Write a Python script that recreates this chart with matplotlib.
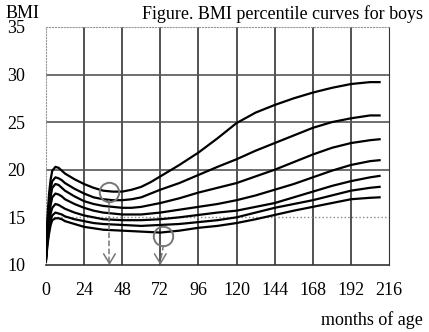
import numpy as np
import matplotlib
matplotlib.use('Agg')
import matplotlib.pyplot as plt

plt.rcParams['font.family'] = ['Liberation Serif', 'DejaVu Serif']

# months of age
months = [0, 1, 2, 3, 4, 6, 8, 10, 12, 18, 24, 30, 36, 42, 48, 54, 60, 66, 72,
          84, 96, 108, 120, 132, 144, 156, 168, 180, 192, 204, 210]

# BMI percentile curves, top to bottom
p95 = [10.8, 15.0, 17.5, 19.0, 19.9, 20.3, 20.2, 19.9, 19.6, 19.0, 18.5, 18.1, 17.8, 17.7, 17.7, 17.9, 18.2, 18.7, 19.3,
       20.5, 21.8, 23.3, 24.9, 26.0, 26.8, 27.5, 28.1, 28.6, 29.0, 29.2, 29.2]
p85 = [10.7, 14.3, 16.6, 18.0, 18.8, 19.2, 19.1, 18.9, 18.6, 18.0, 17.5, 17.1, 16.9, 16.8, 16.8, 16.9, 17.1, 17.5, 17.9,
       18.6, 19.45, 20.3, 21.1, 22.0, 22.8, 23.6, 24.4, 25.0, 25.4, 25.7, 25.7]
p75 = [10.6, 13.8, 15.9, 17.2, 18.1, 18.5, 18.4, 18.1, 17.8, 17.2, 16.7, 16.4, 16.2, 16.1, 16.0, 16.0, 16.1, 16.3, 16.5,
       17.0, 17.6, 18.1, 18.6, 19.3, 20.0, 20.8, 21.6, 22.3, 22.8, 23.1, 23.2]
p50 = [10.5, 13.3, 15.1, 16.3, 17.1, 17.5, 17.4, 17.2, 16.9, 16.4, 16.0, 15.7, 15.5, 15.4, 15.3, 15.3, 15.3, 15.4, 15.5,
       15.8, 16.1, 16.4, 16.8, 17.3, 17.9, 18.5, 19.2, 19.9, 20.5, 20.9, 21.0]
p25 = [10.5, 12.8, 14.4, 15.4, 16.0, 16.4, 16.3, 16.1, 15.9, 15.5, 15.2, 15.0, 14.8, 14.75, 14.7, 14.7, 14.7, 14.75, 14.8,
       15.0, 15.25, 15.5, 15.7, 16.1, 16.5, 17.1, 17.7, 18.3, 18.8, 19.2, 19.35]
p10 = [10.4, 12.4, 13.8, 14.7, 15.2, 15.5, 15.4, 15.3, 15.1, 14.8, 14.6, 14.4, 14.3, 14.25, 14.2, 14.15, 14.1, 14.15, 14.2,
       14.3, 14.5, 14.7, 15.0, 15.5, 16.0, 16.4, 16.8, 17.3, 17.8, 18.1, 18.2]
p5 = [10.3, 12.1, 13.3, 14.2, 14.7, 14.9, 14.9, 14.8, 14.6, 14.3, 14.0, 13.85, 13.7, 13.65, 13.6, 13.55, 13.5, 13.45, 13.4,
      13.6, 13.9, 14.1, 14.4, 14.8, 15.25, 15.7, 16.1, 16.5, 16.9, 17.05, 17.1]

# circled points and arrows
circle_x = [40, 74]
circle_y = [17.7, 13.0]
arrow_x = [40, 72]

xticks = list(range(0, 217, 24))
yticks = [10, 15, 20, 25, 30, 35]

fig = plt.figure(figsize=(4.29, 3.32), dpi=100)
ax = fig.add_axes([0.107, 0.202, 0.8, 0.717])

# grid
for x in xticks[1:-1]:
    ax.axvline(x, color='#222222', lw=1.1, zorder=1)
for y in [20, 25, 30]:
    ax.axhline(y, color='#555555', lw=1.2, zorder=1)
ax.axhline(15, color='#888888', lw=1.0, ls=':', zorder=1)

for s in [p95, p85, p75, p50, p25, p10, p5]:
    ax.plot(months, s, color='black', lw=1.6, zorder=3, solid_joinstyle='round')

ax.plot(circle_x, circle_y, 'o', ms=14, mfc='none', mec='#777777', mew=1.4, zorder=4)

for cx, cy, axx in zip(circle_x, circle_y, arrow_x):
    ax.plot([cx, axx], [cy - 0.9, 10.3], color='#777777', lw=1.1, ls='--', zorder=4, clip_on=False)
    ax.annotate('', xy=(axx, 9.7), xytext=(axx, 10.6), annotation_clip=False,
                arrowprops=dict(arrowstyle='->,head_length=0.5,head_width=0.3',
                                color='#777777', lw=1.1, mutation_scale=14))

ax.set_xlim(0, 216)
ax.set_ylim(10, 35)
ax.set_xticks(xticks)
ax.set_yticks(yticks)
ax.tick_params(length=0, labelsize=13, pad=12)
ax.tick_params(axis='y', pad=15)

ax.spines['left'].set_color('#999999')
ax.spines['left'].set_linestyle(':')
ax.spines['top'].set_color('#999999')
ax.spines['top'].set_linestyle(':')
ax.spines['right'].set_color('#333333')
ax.spines['bottom'].set_color('#333333')
ax.spines['bottom'].set_linewidth(1.2)

fig.text(0.012, 1 - 13 / 332, 'BMI', fontsize=13, va='center', ha='left')
fig.text(0.986, 1 - 14 / 332, 'Figure. BMI percentile curves for boys', fontsize=13, va='center', ha='right')
fig.text(0.986, 1 - 320 / 332, 'months of age', fontsize=13, va='center', ha='right')

fig.savefig('out.png', dpi=100)
